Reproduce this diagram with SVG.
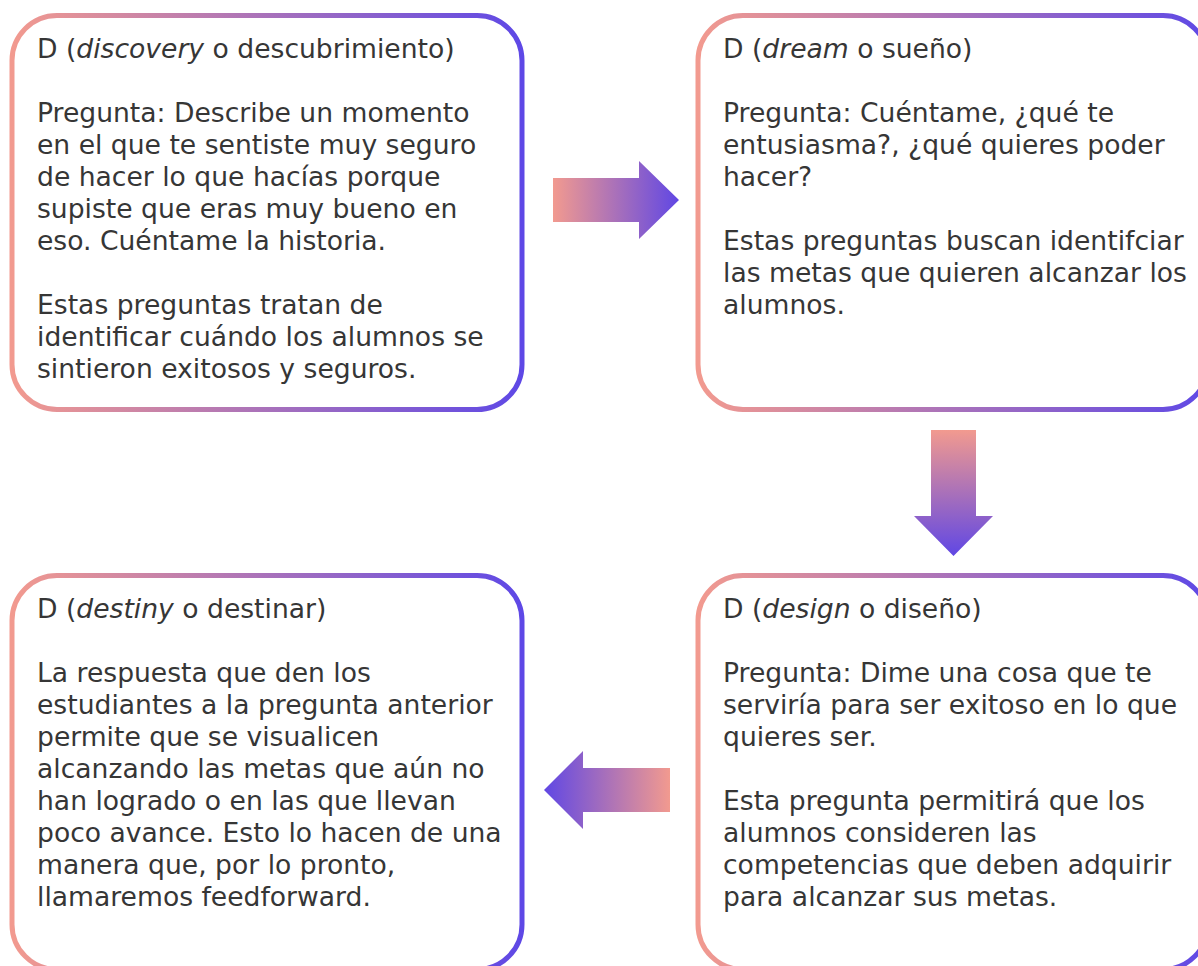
<svg xmlns="http://www.w3.org/2000/svg" width="1198" height="966" viewBox="0 0 1198 966">
<style>
.box{fill:#ffffff;stroke:url(#gBox);stroke-width:5}
.t{font-family:"DejaVu Sans","Liberation Sans",sans-serif;font-size:26.6px;fill:#363636}
.i{font-style:italic}
</style>
<defs>
<linearGradient id="gBox" x1="0" y1="0" x2="1" y2="0">
<stop offset="0" stop-color="#F29A8F"/>
<stop offset="1" stop-color="#5E48E6"/>
</linearGradient>
<linearGradient id="gR" x1="0" y1="0" x2="1" y2="0">
<stop offset="0" stop-color="#F29A8F"/>
<stop offset="1" stop-color="#6047E4"/>
</linearGradient>
<linearGradient id="gD" x1="0" y1="0" x2="0" y2="1">
<stop offset="0" stop-color="#F29A8F"/>
<stop offset="1" stop-color="#6047E4"/>
</linearGradient>
<linearGradient id="gL" x1="0" y1="0" x2="1" y2="0">
<stop offset="0" stop-color="#6047E4"/>
<stop offset="1" stop-color="#F29A8F"/>
</linearGradient>
</defs>
<rect width="1198" height="966" fill="#ffffff"/>

<g id="node-discovery">
<rect class="box" x="12" y="15.5" width="510" height="394" rx="45"/>
<text class="t" x="37" y="58">D (<tspan class="i">discovery</tspan> o descubrimiento)</text>
<text class="t" x="37" y="122">Pregunta: Describe un momento</text>
<text class="t" x="37" y="154">en el que te sentiste muy seguro</text>
<text class="t" x="37" y="186">de hacer lo que hacías porque</text>
<text class="t" x="37" y="218">supiste que eras muy bueno en</text>
<text class="t" x="37" y="250">eso. Cuéntame la historia.</text>
<text class="t" x="37" y="314">Estas preguntas tratan de</text>
<text class="t" x="37" y="346">identificar cuándo los alumnos se</text>
<text class="t" x="37" y="378">sintieron exitosos y seguros.</text>
</g>

<g id="node-dream">
<rect class="box" x="698" y="15.5" width="510" height="394" rx="45"/>
<text class="t" x="723" y="58">D (<tspan class="i">dream</tspan> o sueño)</text>
<text class="t" x="723" y="122">Pregunta: Cuéntame, ¿qué te</text>
<text class="t" x="723" y="154">entusiasma?, ¿qué quieres poder</text>
<text class="t" x="723" y="186">hacer?</text>
<text class="t" x="723" y="250">Estas preguntas buscan identifciar</text>
<text class="t" x="723" y="282">las metas que quieren alcanzar los</text>
<text class="t" x="723" y="314">alumnos.</text>
</g>

<g id="node-destiny">
<rect class="box" x="12" y="575.5" width="510" height="394" rx="45"/>
<text class="t" x="37" y="618">D (<tspan class="i">destiny</tspan> o destinar)</text>
<text class="t" x="37" y="682">La respuesta que den los</text>
<text class="t" x="37" y="714">estudiantes a la pregunta anterior</text>
<text class="t" x="37" y="746">permite que se visualicen</text>
<text class="t" x="37" y="778">alcanzando las metas que aún no</text>
<text class="t" x="37" y="810">han logrado o en las que llevan</text>
<text class="t" x="37" y="842">poco avance. Esto lo hacen de una</text>
<text class="t" x="37" y="874">manera que, por lo pronto,</text>
<text class="t" x="37" y="906">llamaremos feedforward.</text>
</g>

<g id="node-design">
<rect class="box" x="698" y="575.5" width="510" height="394" rx="45"/>
<text class="t" x="723" y="618">D (<tspan class="i">design</tspan> o diseño)</text>
<text class="t" x="723" y="682">Pregunta: Dime una cosa que te</text>
<text class="t" x="723" y="714">serviría para ser exitoso en lo que</text>
<text class="t" x="723" y="746">quieres ser.</text>
<text class="t" x="723" y="810">Esta pregunta permitirá que los</text>
<text class="t" x="723" y="842">alumnos consideren las</text>
<text class="t" x="723" y="874">competencias que deben adquirir</text>
<text class="t" x="723" y="906">para alcanzar sus metas.</text>
</g>

<g id="connectors">
<polygon fill="url(#gR)" points="553,178 639,178 639,161 679,200 639,239 639,222 553,222"/>
<polygon fill="url(#gD)" points="931,430 976,430 976,516 993,516 953.5,556 914,516 931,516"/>
<polygon fill="url(#gL)" points="670,768 583,768 583,751 544,790 583,829 583,812 670,812"/>
</g>
</svg>
